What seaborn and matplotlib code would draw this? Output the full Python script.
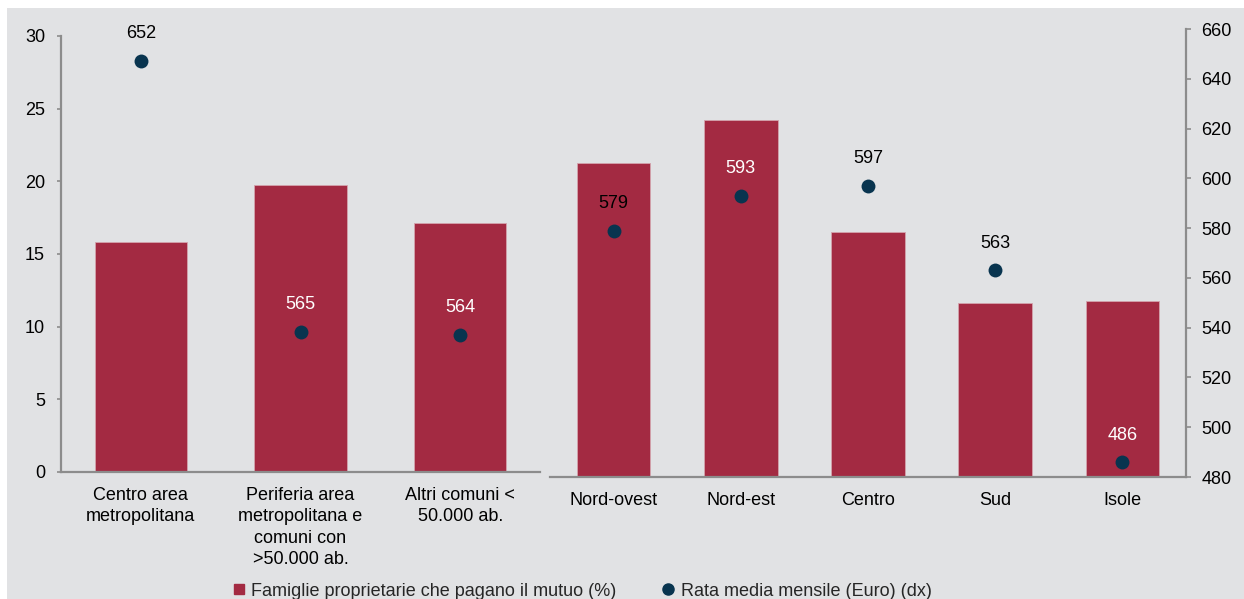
import numpy as np
import matplotlib
matplotlib.use("Agg")
import matplotlib.pyplot as plt
from matplotlib.lines import Line2D
from matplotlib.patches import Rectangle
import seaborn as sns

# ---- data ----
area_labels = ["Centro area\nmetropolitana",
               "Periferia area\nmetropolitana e\ncomuni con\n>50.000 ab.",
               "Altri comuni <\n50.000 ab."]
area_share = [15.8, 19.75, 17.1]
area_rata = [652, 565, 564]

region_labels = ["Nord-ovest", "Nord-est", "Centro", "Sud", "Isole"]
region_share = [21.0, 23.9, 16.4, 11.65, 11.8]
region_rata = [579, 593, 597, 563, 486]

legend_labels = ["Famiglie proprietarie che pagano il mutuo (%)",
                 "Rata media mensile (Euro) (dx)"]

# ---- style ----
BG = "#e1e2e4"
BAR = "#a32a42"
DOT = "#08344f"
AXC = "#8c8c8c"
FS = 13

sns.set_theme(style="white")
plt.rcParams["font.family"] = ["Liberation Sans", "DejaVu Sans"]
plt.rcParams["font.size"] = FS

W, H = 1244, 599
fig = plt.figure(figsize=(W / 100, H / 100), dpi=100, facecolor="white")
fig.patches.append(Rectangle((7 / W, 0), 1, (H - 8) / H, transform=fig.transFigure,
                             facecolor=BG, edgecolor="none", zorder=-10))


def px_axes(x0, x1, ytop, ybot):
    return fig.add_axes([x0 / W, (H - ybot) / H, (x1 - x0) / W, (ybot - ytop) / H])


def style_x(ax, labels):
    n = len(labels)
    ax.set_xlim(-0.5, n - 0.5)
    ax.set_xticks(np.arange(n))
    ax.set_xticklabels(labels, linespacing=1.35)
    ax.set_xticks(np.arange(-0.5, n), minor=True)
    ax.tick_params(axis="x", which="major", length=0, pad=10.5, labelsize=FS, colors="black")
    ax.tick_params(axis="x", which="minor", length=3.6, width=1.2, color=AXC, direction="out")
    ax.spines["bottom"].set_color(AXC)
    ax.spines["bottom"].set_linewidth(1.6)
    ax.set_xlabel("")
    ax.set_ylabel("")


def draw_panel(ax, labels, share, rata, rata_lim, label_colors):
    sns.barplot(x=labels, y=share, color=BAR, saturation=1, width=0.58,
                edgecolor="#d4a3ad", linewidth=0.6, ax=ax)
    ax.set_facecolor("none")
    ax.set_ylim(0, 30)
    tw = ax.twinx()
    sns.stripplot(x=labels, y=rata, jitter=False, size=10, color=DOT,
                  linewidth=0, ax=tw, zorder=5)
    tw.set_ylim(*rata_lim)
    tw.set_ylabel("")
    for i, (v, c) in enumerate(zip(rata, label_colors)):
        tw.annotate(str(v), (i, v), xytext=(0, 27), textcoords="offset pixels",
                    ha="center", va="center", fontsize=FS, color=c)
    style_x(ax, labels)
    for s in ["top", "right", "left", "bottom"]:
        tw.spines[s].set_visible(False)
    return tw


# left panel: urban areas
ax1 = px_axes(61, 540, 36, 472)
tw1 = draw_panel(ax1, area_labels, area_share, area_rata, (520, 660),
                 ["black", "white", "white"])
ax1.set_yticks(np.arange(0, 31, 5))
ax1.tick_params(axis="y", length=3, width=1.2, colors=AXC, labelcolor="black",
                pad=8.5, labelsize=FS, left=True)
for s in ["top", "right"]:
    ax1.spines[s].set_visible(False)
ax1.spines["left"].set_color(AXC)
ax1.spines["left"].set_linewidth(1.6)
tw1.set_yticks([])

# right panel: regions
ax2 = px_axes(550, 1186, 29, 477)
tw2 = draw_panel(ax2, region_labels, region_share, region_rata, (480, 660),
                 ["black", "white", "black", "black", "white"])
for s in ["top", "right", "left"]:
    ax2.spines[s].set_visible(False)
ax2.set_yticks([])
tw2.spines["right"].set_visible(True)
tw2.spines["right"].set_color(AXC)
tw2.spines["right"].set_linewidth(1.6)
tw2.set_yticks(np.arange(480, 661, 20))
tw2.tick_params(axis="y", length=3.6, width=1.2, colors=AXC, labelcolor="black",
                pad=7.5, labelsize=FS, right=True)

# legend
handles = [Line2D([], [], marker="s", ls="", color=BAR, markersize=7),
           Line2D([], [], marker="o", ls="", color=DOT, markersize=8)]
fig.legend(handles, legend_labels, loc="center", bbox_to_anchor=(582 / W, 1 - 591 / H),
           ncol=2, frameon=False, fontsize=FS, handlelength=0.7, handletextpad=0.35,
           columnspacing=2.5, borderaxespad=0, borderpad=0)

fig.savefig("out.png", dpi=100, facecolor="white")
